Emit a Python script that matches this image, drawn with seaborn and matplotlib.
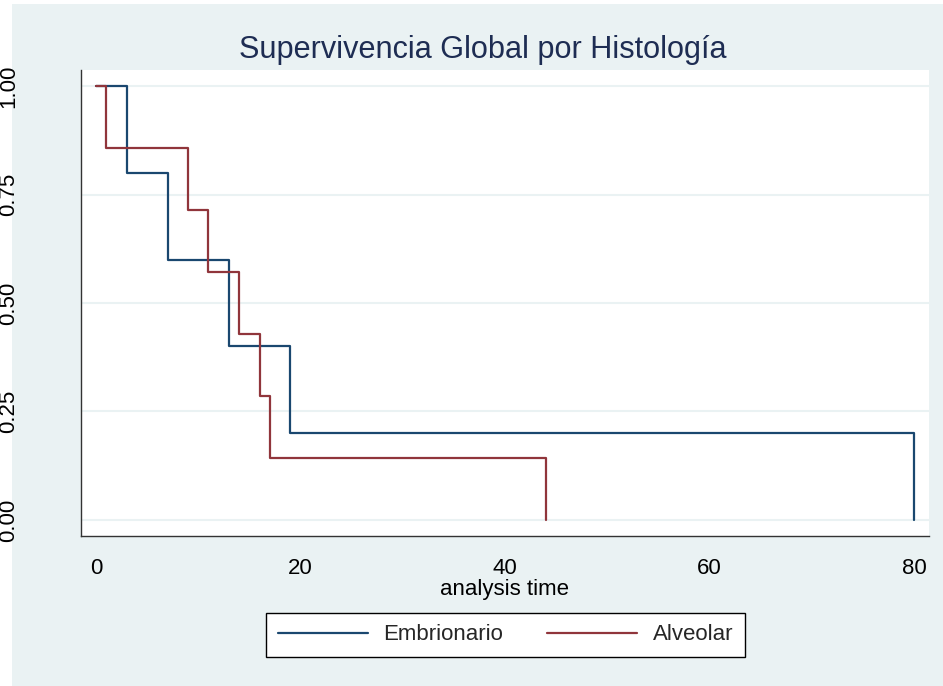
import matplotlib
matplotlib.use("Agg")
import matplotlib.pyplot as plt
import seaborn as sns
import pandas as pd
from matplotlib.lines import Line2D
from matplotlib.patches import Rectangle

# Data (Kaplan-Meier step values)
emb_time = [0, 3, 7, 13, 19, 80]
emb_surv = [1.0, 0.8, 0.6, 0.4, 0.2, 0.0]
alv_time = [0, 1, 9, 11, 14, 16, 17, 44]
alv_surv = [1.0, 0.857, 0.714, 0.571, 0.429, 0.286, 0.143, 0.0]
groups = ["Embrionario", "Alveolar"]
x_ticks = [0, 20, 40, 60, 80]
y_ticks = [0.0, 0.25, 0.5, 0.75, 1.0]
y_ticklabels = ["0.00", "0.25", "0.50", "0.75", "1.00"]
title = "Supervivencia Global por Histología"
x_label = "analysis time"

df = pd.concat([
    pd.DataFrame({"t": emb_time, "s": emb_surv, "g": groups[0]}),
    pd.DataFrame({"t": alv_time, "s": alv_surv, "g": groups[1]}),
], ignore_index=True)

sns.set_theme(style="white")
plt.rcParams["font.family"] = ["Liberation Sans", "DejaVu Sans"]

BG = "#EAF2F3"
NAVY = "#1A476F"
MAROON = "#90353B"
palette = {groups[0]: NAVY, groups[1]: MAROON}

W, H = 943, 686
fig = plt.figure(figsize=(9.43, 6.86), dpi=100, facecolor="white")
# graph region (light blue) with a thin white strip at left/top as in the reference
fig.patches.append(Rectangle((12 / W, -0.01), 1.02 - 12 / W, 1.01 - 4 / H,
                             transform=fig.transFigure,
                             facecolor=BG, edgecolor="none", zorder=-10))

ax = fig.add_axes([81 / W, 1 - 536 / H, (929 - 81) / W, (536 - 70) / H])
ax.set_facecolor("white")

sns.lineplot(data=df, x="t", y="s", hue="g", palette=palette, estimator=None,
             sort=False, drawstyle="steps-post", linewidth=1.6, legend=False, ax=ax)

ax.set_xlim(-1.467, 81.467)
ax.set_ylim(-0.0369, 1.0369)
ax.set_xticks(x_ticks)
ax.set_yticks(y_ticks)
ax.set_yticklabels(y_ticklabels, rotation=90, va="center")
ax.tick_params(axis="both", which="major", labelsize=16, colors="black",
               length=10, width=1, direction="out")
ax.tick_params(axis="x", pad=5.8)
ax.tick_params(axis="y", pad=34.5)
for lab in ax.get_yticklabels():
    lab.set_verticalalignment("center")
    lab.set_horizontalalignment("right")

ax.grid(axis="y", color=BG, linewidth=1.5)
ax.grid(axis="x", visible=False)
ax.set_axisbelow(True)
for side in ["top", "right"]:
    ax.spines[side].set_visible(False)
for side in ["left", "bottom"]:
    ax.spines[side].set_color("#333333")
    ax.spines[side].set_linewidth(1.0)

ax.set_xlabel(x_label, fontsize=16, labelpad=0, color="black")
ax.set_ylabel("")

fig.text(482.5 / W, 1 - 58 / H, title, ha="center", va="baseline",
         fontsize=22.1, color="#1E2D53")

handles = [Line2D([0], [0], color=NAVY, lw=1.6), Line2D([0], [0], color=MAROON, lw=1.6)]
leg = fig.legend(handles, groups, loc="center", bbox_to_anchor=(505.5 / W, 1 - 635 / H),
                 ncol=2, fontsize=16, frameon=True, fancybox=False, handlelength=4.05,
                 handletextpad=0.68, columnspacing=2.0, borderpad=0.53,
                 edgecolor="black", facecolor="white", framealpha=1)
leg.get_frame().set_linewidth(1.0)

fig.savefig("out.png", dpi=100, facecolor="white")
